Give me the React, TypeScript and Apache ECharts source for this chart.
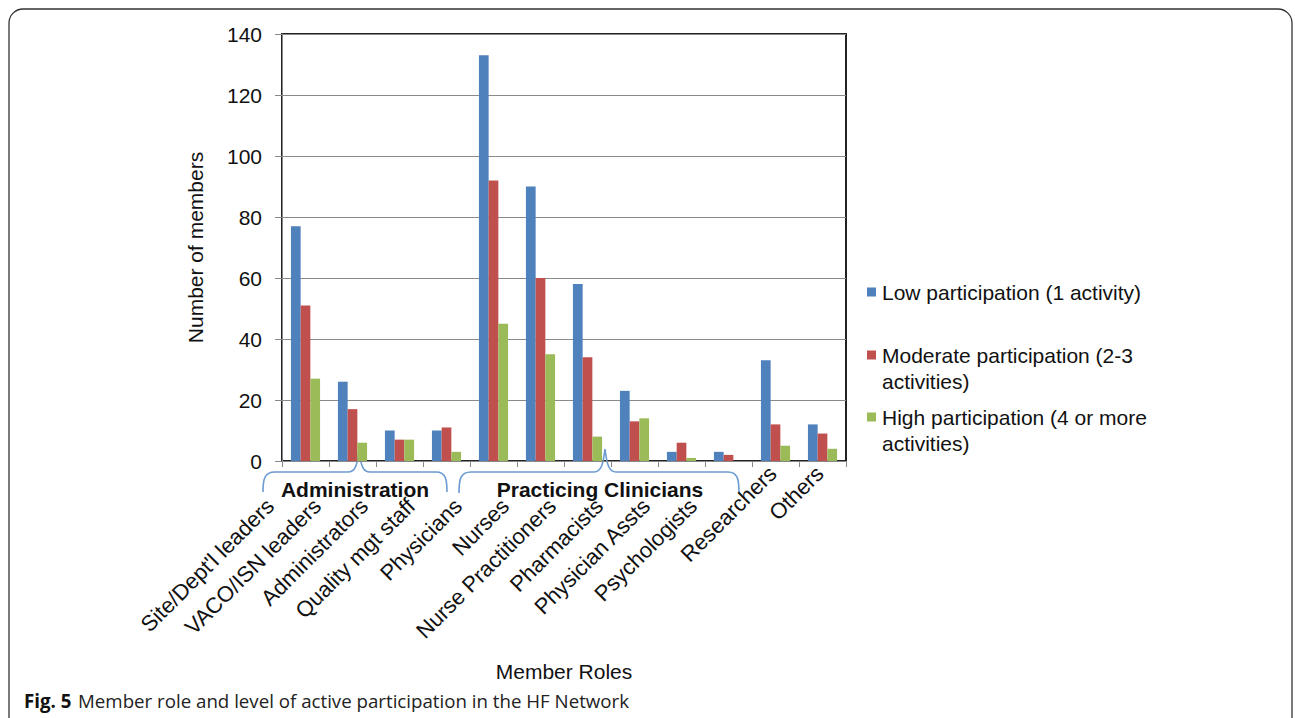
import React, { useEffect, useRef } from "react";
import * as echarts from "echarts";

const categories = [
  "Site/Dept'l leaders",
  "VACO/ISN leaders",
  "Administrators",
  "Quality mgt staff",
  "Physicians",
  "Nurses",
  "Nurse Practitioners",
  "Pharmacists",
  "Physician Assts",
  "Psychologists",
  "Researchers",
  "Others",
];
const lowParticipation = [77, 26, 10, 10, 133, 90, 58, 23, 3, 3, 33, 12];
const moderateParticipation = [51, 17, 7, 11, 92, 60, 34, 13, 6, 2, 12, 9];
const highParticipation = [27, 6, 7, 3, 45, 35, 8, 14, 1, 0, 5, 4];
const seriesNames = [
  "Low participation (1 activity)",
  "Moderate participation (2-3 activities)",
  "High participation (4 or more activities)",
];
const legendLabels = [
  "Low participation (1 activity)",
  "Moderate participation (2-3\nactivities)",
  "High participation (4 or more\nactivities)",
];
const colors = ["#4F81BD", "#C0504D", "#9BBB59"];
const groupLabels = ["Administration", "Practicing Clinicians"];
// number of categories that sit under the two group brackets
const bracketedCount = 10;

const FONT = "'Liberation Sans', Arial, sans-serif";

const bracketA =
  "M263,492 C263,480 264,472 275,472 L348,472 C355,472 357,466 359,451 C361,466 363,472 370,472 L436,472 C446,472 447,480 447,492";
const bracketB =
  "M459,493 C459,480 460,472 471,472 L594,472 C601,472 603,465 605,449 C607,465 609,472 616,472 L728,472 C738,472 739,480 739,493";

export default function App() {
  const ref = useRef<HTMLDivElement>(null);
  useEffect(() => {
    if (!ref.current) return;
    echarts.graphic.registerShape("bracketA", echarts.graphic.extendPath(bracketA, {}));
    echarts.graphic.registerShape("bracketB", echarts.graphic.extendPath(bracketB, {}));
    const chart = echarts.init(ref.current, null, { renderer: "svg" });
    const data = [lowParticipation, moderateParticipation, highParticipation];
    const legendTops = [279, 342, 404];
    chart.setOption({
      animation: false,
      textStyle: { fontFamily: FONT },
      grid: {
        left: 282,
        top: 34,
        width: 564,
        height: 427,
        show: true,
        borderColor: "#222",
        borderWidth: 2,
        outerBoundsMode: "none",
        containLabel: false,
      },
      legend: seriesNames.map((n, i) => ({
        data: [n],
        left: 867,
        top: legendTops[i],
        orient: "vertical",
        padding: 0,
        itemWidth: 9,
        itemHeight: i === 0 ? 9 : 35,
        icon: i === 0 ? "rect" : "path://M0,0L9,0L9,9L0,9Z M0,35L0.01,35",
        selectedMode: false,
        formatter: () => legendLabels[i],
        textStyle: {
          fontFamily: FONT,
          fontSize: 21,
          lineHeight: 26,
          color: "#111",
          padding: [0, 0, 0, 1],
        },
      })),
      xAxis: {
        type: "category",
        data: categories.map((c, i) => ({
          value: c,
          textStyle: { padding: i < bracketedCount ? [0, 50, 0, 0] : [0, 4, 0, 0] },
        })),
        name: "Member Roles",
        nameLocation: "middle",
        nameGap: 200,
        nameTextStyle: { fontFamily: FONT, fontSize: 21, color: "#111" },
        axisLine: { show: true, lineStyle: { color: "#888", width: 1 } },
        axisTick: { show: true, length: 6, lineStyle: { color: "#888" } },
        axisLabel: {
          interval: 0,
          rotate: 45,
          fontFamily: FONT,
          fontSize: 22,
          color: "#111",
          margin: 6,
        },
      },
      yAxis: {
        type: "value",
        min: 0,
        max: 140,
        interval: 20,
        name: "Number of members",
        nameLocation: "middle",
        nameGap: 76,
        nameTextStyle: { fontFamily: FONT, fontSize: 21, color: "#111" },
        axisLine: { show: true, lineStyle: { color: "#888", width: 1 } },
        axisTick: { show: true, length: 7, lineStyle: { color: "#888" } },
        axisLabel: { fontFamily: FONT, fontSize: 21, color: "#111", margin: 20 },
        splitLine: { show: true, lineStyle: { color: "#8a8a8a", width: 1 } },
      },
      series: seriesNames.map((n, i) => ({
        name: n,
        type: "bar",
        data: data[i],
        barGap: "0%",
        barCategoryGap: "38%",
        itemStyle: { color: colors[i] },
      })),
      graphic: [
        {
          type: "rect",
          shape: { x: 9, y: 9, width: 1283, height: 740, r: 14 },
          style: { fill: "none", stroke: "#333", lineWidth: 1.3 },
          silent: true,
        },
        {
          type: "bracketA",
          style: { fill: "none", stroke: "#6b9bd2", lineWidth: 1.6 },
          silent: true,
        },
        {
          type: "bracketB",
          style: { fill: "none", stroke: "#6b9bd2", lineWidth: 1.6 },
          silent: true,
        },
        {
          type: "text",
          x: 355,
          y: 489,
          style: {
            text: groupLabels[0],
            fontFamily: FONT,
            fontSize: 21,
            fontWeight: "bold",
            fill: "#111",
            align: "center",
            verticalAlign: "middle",
          },
        },
        {
          type: "text",
          x: 600,
          y: 489,
          style: {
            text: groupLabels[1],
            fontFamily: FONT,
            fontSize: 21,
            fontWeight: "bold",
            fill: "#111",
            align: "center",
            verticalAlign: "middle",
          },
        },
        {
          type: "text",
          x: 24,
          y: 700,
          style: {
            text: "{b|Fig. 5}  {n|Member role and level of active participation in the HF Network}",
            verticalAlign: "middle",
            rich: {
              b: { fontFamily: "'Open Sans', sans-serif", fontSize: 18.7, fontWeight: "bold", fill: "#111" },
              n: { fontFamily: "'Open Sans', sans-serif", fontSize: 18.7, fill: "#222" },
            },
          },
        },
      ],
    });
    return () => chart.dispose();
  }, []);
  return (
    <div
      ref={ref}
      style={{ position: "absolute", left: 0, top: 0, width: 1295, height: 718 }}
    />
  );
}
